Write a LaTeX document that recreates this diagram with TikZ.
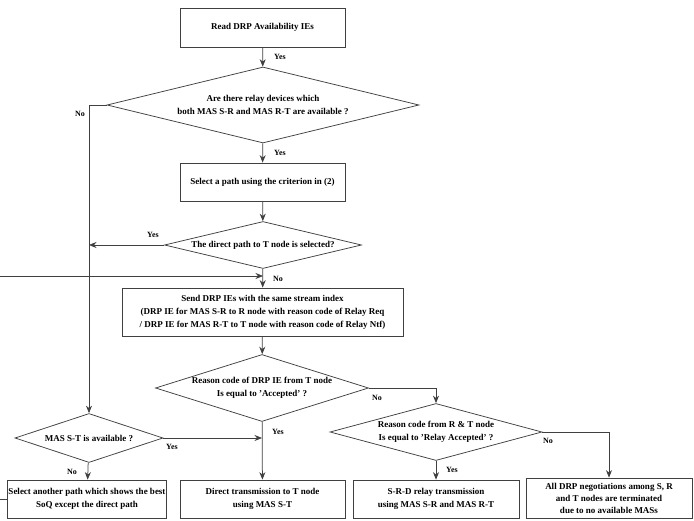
\documentclass[tikz,border=0pt]{standalone}
\usepackage{fontspec}
\setmainfont{Liberation Serif}
\usetikzlibrary{shapes.geometric,arrows.meta}
\begin{document}
\begin{tikzpicture}[x=1pt,y=-1pt,
  font=\fontsize{9}{13}\selectfont\bfseries,
  line/.style={draw=black!75,line width=0.75pt},
  arr/.style={line,-{Stealth[length=7.5pt,width=6pt]}},
  procbox/.style={draw=black!75,line width=0.75pt,rectangle,align=center,inner sep=1pt},
  decision/.style={draw=black!75,line width=0.75pt,diamond,align=center,inner sep=0pt},
  lbl/.style={font=\fontsize{8}{9}\selectfont\bfseries,inner sep=0pt}]
\useasboundingbox (0,0) rectangle (694,521);
\clip (0,0) rectangle (694,521);

\node[procbox,minimum width=165pt,minimum height=39pt] (b1) at (262.5,27.5) {Read DRP Availability IEs};
\node[decision,minimum width=312pt,minimum height=76pt,aspect=4.1] (d1) at (263,105) {Are there relay devices which\\both MAS S-R and MAS R-T are available ?};
\node[procbox,minimum width=165pt,minimum height=38pt] (b2) at (262.5,182) {Select a path using the criterion in (2)};
\node[decision,minimum width=197pt,minimum height=47pt,aspect=4.19] (d2) at (263,245) {The direct path to T node is selected?};
\node[procbox,minimum width=281pt,minimum height=48pt] (b3) at (262.5,312) {Send DRP IEs with the same stream index\\(DRP IE for MAS S-R to R node with reason code of Relay Req\\/ DRP IE for MAS R-T to T node with reason code of Relay Ntf)};
\node[decision,minimum width=213pt,minimum height=67pt,aspect=3.18] (d3) at (262,388) {Reason code of DRP IE from T node\\Is equal to \textquoteright Accepted\textquoteright\ ?};
\node[decision,minimum width=212pt,minimum height=57pt,aspect=3.72] (d4) at (436,432) {Reason code from R \& T node\\Is equal to \textquoteright Relay Accepted\textquoteright\ ?};
\node[decision,minimum width=148pt,minimum height=49pt,aspect=3.02] (d5) at (89,438) {MAS S-T is available ?};
\node[procbox,minimum width=158pt,minimum height=38pt] (b4) at (87,499) {Select another path which shows the best\\SoQ except the direct path};
\node[procbox,minimum width=165pt,minimum height=38pt] (b5) at (262.5,499) {Direct transmission to T node\\using MAS S-T};
\node[procbox,minimum width=166pt,minimum height=38pt] (b6) at (436,499) {S-R-D relay transmission\\using MAS S-R and MAS R-T};
\node[procbox,minimum width=166pt,minimum height=40pt,font=\fontsize{9}{12}\selectfont\bfseries] (b7) at (609,498) {All DRP negotiations among S, R\\and T nodes are terminated\\due to no available MASs};

\coordinate (c1) at (89,105);
\coordinate (c2) at (89,245);
\coordinate (c3) at (263,276);
\coordinate (c4) at (-5,499);
\coordinate (c5) at (-5,276);
\coordinate (c6) at (262,438);
\coordinate (c7) at (436,388);
\coordinate (c8) at (609,432);

\draw[arr] (b1) -- (d1);
\draw[arr] (d1.west) -- (c1) -- (d5.north);
\draw[arr] (d1) -- (b2);
\draw[arr] (b2) -- (d2);
\draw[arr] (d2.west) -- (c2);
\draw[arr] (d2) -- (b3);
\draw[arr] (b4.west) -- (c4) -- (c5) -- (c3);
\draw[arr] (b3) -- (d3);
\draw[arr] (d3) -- (b5);
\draw[arr] (d5.east) -- (c6);
\draw[arr] (d5) -- (b4);
\draw[arr] (d3.east) -- (c7) -- (d4.north);
\draw[arr] (d4) -- (b6);
\draw[arr] (d4.east) -- (c8) -- (b7.north);

\node[lbl] (l1) at (280,57) {Yes};
\node[lbl] (l2) at (80,114) {No};
\node[lbl] (l3) at (280,153) {Yes};
\node[lbl] (l4) at (153,235) {Yes};
\node[lbl] (l5) at (278,279) {No};
\node[lbl] (l6) at (278,432) {Yes};
\node[lbl] (l7) at (172,447) {Yes};
\node[lbl] (l8) at (72,472) {No};
\node[lbl] (l9) at (377,398) {No};
\node[lbl] (l10) at (548,441) {No};
\node[lbl] (l11) at (452,470) {Yes};
\end{tikzpicture}
\end{document}
